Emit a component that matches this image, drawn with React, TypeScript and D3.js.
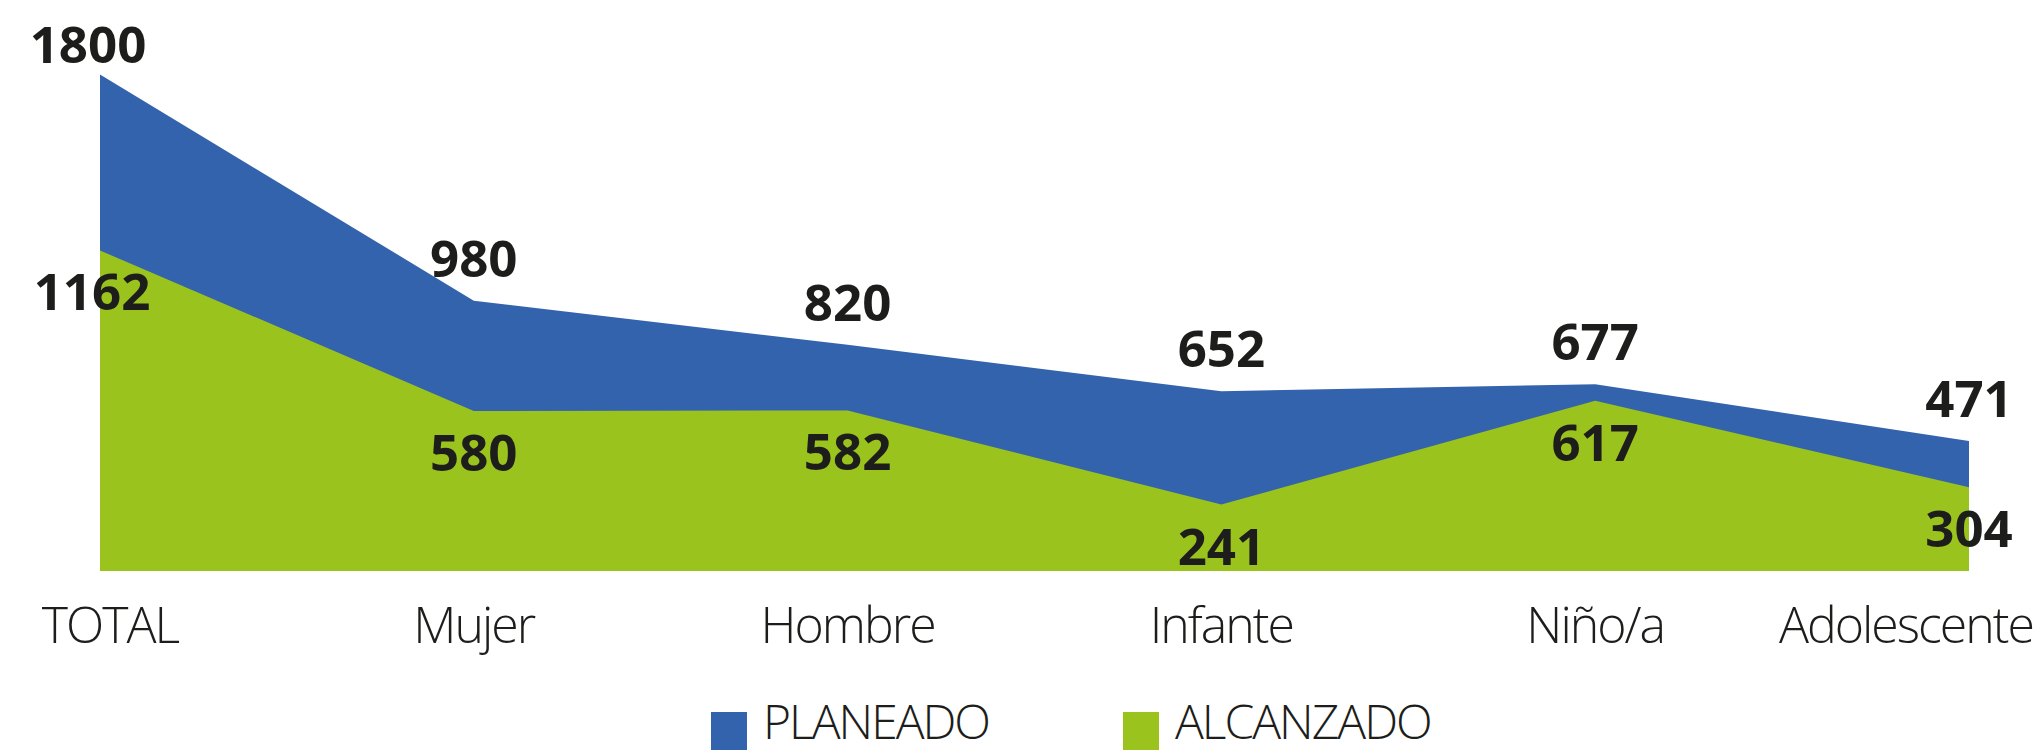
import React from "react";
import * as d3 from "d3";

const categories = ["TOTAL", "Mujer", "Hombre", "Infante", "Niño/a", "Adolescente"];
const planeado = [1800, 980, 820, 652, 677, 471];
const alcanzado = [1162, 580, 582, 241, 617, 304];
const seriesNames = ["PLANEADO", "ALCANZADO"];
const seriesColors = ["#3463ad", "#9bc31e"];

const W = 2039;
const H = 750;

export default function App() {
  const x = d3.scalePoint<string>().domain(categories).range([100, 1969]);
  const y = d3.scaleLinear().domain([0, 1800]).range([571, 74.5]);

  const rowsP = categories.map((c, i) => ({ c, v: planeado[i] }));
  const rowsA = categories.map((c, i) => ({ c, v: alcanzado[i] }));

  const area = d3
    .area<{ c: string; v: number }>()
    .x((d) => x(d.c) as number)
    .y0(y(0))
    .y1((d) => y(d.v));

  const labelFont = "'Open Sans', sans-serif";
  const valueStyle: React.CSSProperties = {
    fontFamily: labelFont,
    fontWeight: 700,
    fontSize: 51,
    fill: "#1d1d1b",
  };
  const catStyle: React.CSSProperties = {
    fontFamily: labelFont,
    fontWeight: 300,
    fontSize: 50,
    fill: "#1d1d1b",
    letterSpacing: "-2px",
  };
  const legendStyle: React.CSSProperties = { ...catStyle, fontSize: 48 };

  const legendX = [711, 1123];

  return (
    <svg
      width={W}
      height={H}
      style={{ position: "absolute", left: 0, top: 0, background: "#fff" }}
    >
      <path d={area(rowsP) || ""} fill={seriesColors[0]} />
      <path d={area(rowsA) || ""} fill={seriesColors[1]} />

      {rowsP.map((d, i) => (
        <text
          key={"p" + i}
          x={(x(d.c) as number) - (i === 0 ? 12 : 0)}
          y={Math.max(63, y(d.v) - 24)}
          textAnchor="middle"
          style={valueStyle}
        >
          {d.v}
        </text>
      ))}
      {rowsA.map((d, i) => (
        <text
          key={"a" + i}
          x={(x(d.c) as number) - (i === 0 ? 8 : 0)}
          y={y(d.v) + 60}
          textAnchor="middle"
          style={valueStyle}
        >
          {d.v}
        </text>
      ))}

      {categories.map((c, i) => {
        const last = i === categories.length - 1;
        return (
          <text
            key={c}
            x={last ? W - 6 : (x(c) as number) + (i === 0 ? 10 : 0)}
            y={643}
            textAnchor={last ? "end" : "middle"}
            style={catStyle}
          >
            {c}
          </text>
        );
      })}

      {seriesNames.map((s, i) => (
        <g key={s} transform={`translate(${legendX[i]},0)`}>
          <rect x={0} y={712} width={36} height={38} fill={seriesColors[i]} />
          <text x={52} y={739} style={legendStyle}>
            {s}
          </text>
        </g>
      ))}
    </svg>
  );
}
